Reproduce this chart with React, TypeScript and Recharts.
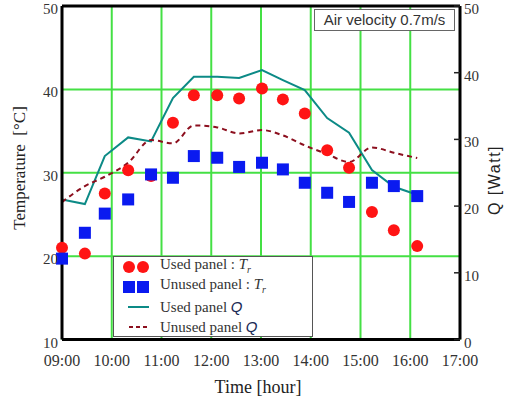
import React from 'react';
import {
  ComposedChart,
  Line,
  Scatter,
  XAxis,
  YAxis,
  CartesianGrid,
  ReferenceLine,
  Legend,
} from 'recharts';

// ---- data ----
const times = [9.0, 9.46, 9.86, 10.33, 10.79, 11.23, 11.65, 12.12, 12.56, 13.02, 13.44, 13.88, 14.33, 14.77, 15.23, 15.67, 16.14];
const usedPanelT = [21.0, 20.3, 27.5, 30.3, 29.6, 36.0, 39.3, 39.3, 38.9, 40.1, 38.8, 37.1, 32.7, 30.6, 25.3, 23.1, 21.2];
const unusedPanelT = [19.7, 22.8, 25.1, 26.8, 29.8, 29.4, 32.0, 31.8, 30.7, 31.2, 30.4, 28.8, 27.6, 26.5, 28.8, 28.4, 27.2];
const usedPanelQ = [21.0, 20.3, 27.5, 30.3, 29.7, 36.2, 39.4, 39.4, 39.2, 40.4, 38.9, 37.4, 33.2, 31.0, 25.4, 22.9, 21.7];
const unusedPanelQ = [20.6, 23.0, 24.4, 26.5, 29.9, 29.4, 32.1, 31.8, 30.9, 31.4, 30.6, 29.1, 27.8, 26.6, 28.8, 28.0, 27.2];

const hourTicks = [9, 10, 11, 12, 13, 14, 15, 16, 17];
const tempTicks = [10, 20, 30, 40, 50];
const qTicks = [0, 10, 20, 30, 40, 50];

const legendLabels = ['Used panel : ', 'Unused panel : ', 'Used panel ', 'Unused panel '];
const annotation = 'Air velocity 0.7m/s';

const rows = times.map((t, i) => ({
  t,
  usedT: usedPanelT[i],
  unusedT: unusedPanelT[i],
  usedQ: usedPanelQ[i],
  unusedQ: unusedPanelQ[i],
}));

const RED = '#ff1414';
const BLUE = '#0a1af0';
const TEAL = '#0c8a86';
const DARKRED = '#8c0f1e';
const GRID = '#44e044';
const SERIF = '"Liberation Serif", "Times New Roman", serif';
const SANS = '"Liberation Sans", Arial, sans-serif';

const fmtHour = (v: number) => `${String(v).padStart(2, '0')}:00`;

const XTick = (props: any) => {
  const { x, y, payload } = props;
  return (
    <text x={x} y={y} dy={12} textAnchor="middle" style={{ fontFamily: SERIF, fontSize: 16, fill: '#333' }}>
      {fmtHour(payload.value)}
    </text>
  );
};

const LeftTick = (props: any) => {
  const { x, y, payload } = props;
  return (
    <text x={x} y={y} dy={8} textAnchor="end" style={{ fontFamily: SERIF, fontSize: 15, fill: '#333' }}>
      {payload.value}
    </text>
  );
};

const RightTick = (props: any) => {
  const { x, y, payload } = props;
  return (
    <g>
      <line x1={x - 10} x2={x - 4} y1={y} y2={y} stroke="#222" strokeWidth={1.5} />
      <text x={x} y={y} dy={8} textAnchor="start" style={{ fontFamily: SERIF, fontSize: 15, fill: '#333' }}>
        {payload.value}
      </text>
    </g>
  );
};

const CircleShape = (props: any) => <circle cx={props.cx} cy={props.cy} r={6} fill={RED} />;
const SquareShape = (props: any) => (
  <rect x={props.cx - 6} y={props.cy - 6} width={12} height={12} fill={BLUE} />
);

const Tr = () => (
  <span>
    <i>T</i>
    <sub style={{ fontSize: 10, fontStyle: 'italic' }}>r</sub>
  </span>
);
const Qi = () => <i style={{ fontFamily: SANS, color: '#1a2a55' }}>Q</i>;

const LegendBox = () => {
  const rowStyle: React.CSSProperties = { display: 'flex', alignItems: 'center', height: 20 };
  return (
    <div
      style={{
        width: 200,
        height: 81,
        boxSizing: 'border-box',
        border: '1px solid #555',
        background: '#fff',
        fontFamily: SERIF,
        fontSize: 15,
        color: '#333',
        lineHeight: '20px',
      }}
    >
      <div style={rowStyle}>
        <svg width={46} height={20}>
          <circle cx={15} cy={10} r={6} fill={RED} />
          <circle cx={29} cy={10} r={6} fill={RED} />
        </svg>
        <span>{legendLabels[0]}<Tr /></span>
      </div>
      <div style={rowStyle}>
        <svg width={46} height={20}>
          <rect x={9} y={4} width={12} height={12} fill={BLUE} />
          <rect x={23} y={4} width={12} height={12} fill={BLUE} />
        </svg>
        <span>{legendLabels[1]}<Tr /></span>
      </div>
      <div style={rowStyle}>
        <svg width={46} height={20}>
          <line x1={14} x2={35} y1={10} y2={10} stroke={TEAL} strokeWidth={2} />
        </svg>
        <span>{legendLabels[2]}<Qi /></span>
      </div>
      <div style={rowStyle}>
        <svg width={46} height={20}>
          <line x1={15} x2={35} y1={10} y2={10} stroke={DARKRED} strokeWidth={2} strokeDasharray="4 3" />
        </svg>
        <span>{legendLabels[3]}<Qi /></span>
      </div>
    </div>
  );
};

export default function App() {
  return (
    <div style={{ position: 'absolute', left: 0, top: 0, width: 508, height: 400, background: '#fff' }}>
      <ComposedChart
        width={508}
        height={400}
        data={rows}
        margin={{ top: 6, right: 8, bottom: 10.5, left: 32 }}
      >
        <CartesianGrid yAxisId="T" stroke={GRID} strokeWidth={2} />
        <XAxis
          dataKey="t"
          type="number"
          domain={[9, 17]}
          ticks={hourTicks}
          height={50}
          tickLine={false}
          tickSize={0}
          tickMargin={14}
          axisLine={{ stroke: '#000', strokeWidth: 3 }}
          tick={<XTick />}
          interval={0}
        />
        <YAxis
          yAxisId="T"
          type="number"
          domain={[10, 50]}
          ticks={tempTicks}
          width={30}
          tickLine={false}
          tickSize={0}
          tickMargin={4}
          axisLine={{ stroke: '#000', strokeWidth: 3 }}
          tick={<LeftTick />}
          interval={0}
        />
        <YAxis
          yAxisId="Q"
          orientation="right"
          type="number"
          domain={[0, 50]}
          ticks={qTicks}
          width={40}
          tickLine={false}
          tickSize={0}
          tickMargin={4}
          axisLine={{ stroke: '#000', strokeWidth: 3 }}
          tick={<RightTick />}
          interval={0}
        />
        <ReferenceLine yAxisId="T" y={50} stroke="#000" strokeWidth={3} />
        <Line
          yAxisId="Q"
          dataKey="usedQ"
          type="linear"
          stroke={TEAL}
          strokeWidth={2}
          dot={false}
          isAnimationActive={false}
        />
        <Line
          yAxisId="Q"
          dataKey="unusedQ"
          type="monotone"
          stroke={DARKRED}
          strokeWidth={2}
          strokeDasharray="5 4"
          dot={false}
          isAnimationActive={false}
        />
        <Scatter yAxisId="T" dataKey="usedT" fill={RED} shape={<CircleShape />} isAnimationActive={false} />
        <Scatter yAxisId="T" dataKey="unusedT" fill={BLUE} shape={<SquareShape />} isAnimationActive={false} />
        <Legend
          layout="vertical"
          align="center"
          verticalAlign="middle"
          content={<LegendBox />}
          wrapperStyle={{ left: 113, top: 256, width: 200, height: 81 }}
        />
      </ComposedChart>

      <div
        style={{
          position: 'absolute',
          left: 314,
          top: 9,
          width: 141,
          height: 22,
          boxSizing: 'border-box',
          border: '1px solid #666',
          background: '#fff',
          fontFamily: SANS,
          fontSize: 15,
          color: '#333',
          lineHeight: '20px',
          textAlign: 'center',
          whiteSpace: 'nowrap',
        }}
      >
        {annotation}
      </div>

      <div
        style={{
          position: 'absolute',
          left: 20,
          top: 168,
          transform: 'translate(-50%, -50%) rotate(-90deg)',
          fontFamily: SERIF,
          fontSize: 17,
          color: '#222',
          whiteSpace: 'nowrap',
        }}
      >
        Temperature&nbsp;&nbsp;[°C]
      </div>

      <div
        style={{
          position: 'absolute',
          left: 495,
          top: 180,
          transform: 'translate(-50%, -50%) rotate(-90deg)',
          fontFamily: SANS,
          fontSize: 16,
          letterSpacing: 1.5,
          color: '#222',
          whiteSpace: 'nowrap',
        }}
      >
        Q [Watt]
      </div>

      <div
        style={{
          position: 'absolute',
          left: 258,
          top: 387,
          transform: 'translate(-50%, -50%)',
          fontFamily: SERIF,
          fontSize: 18,
          color: '#222',
          whiteSpace: 'nowrap',
        }}
      >
        Time [hour]
      </div>
    </div>
  );
}
